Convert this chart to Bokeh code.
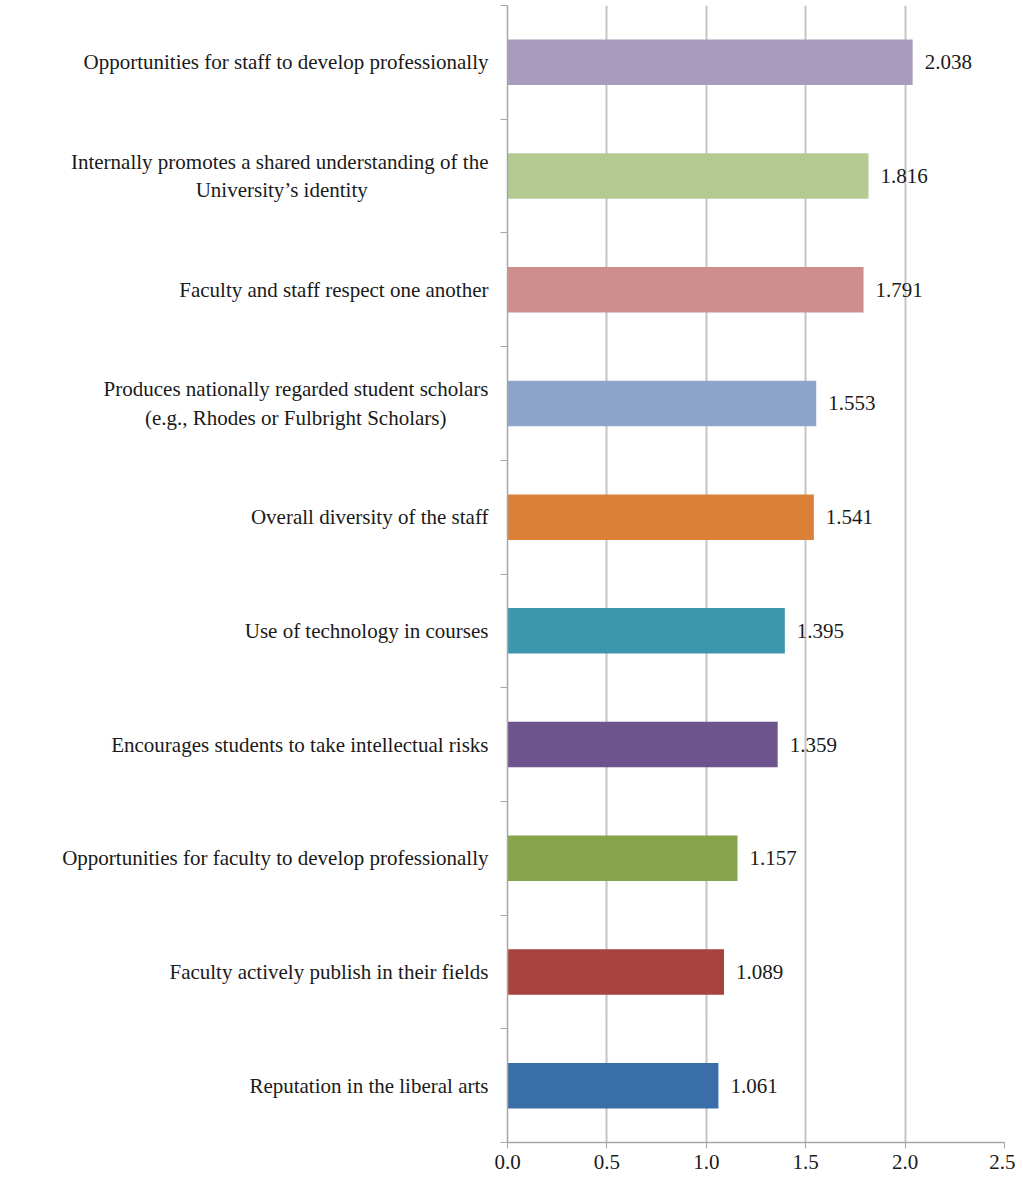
from bokeh.plotting import figure
from bokeh.models import Range1d, FixedTicker, ColumnDataSource
from bokeh.core.properties import value
from bokeh.embed import file_html
from bokeh.resources import INLINE

NB = "\u00a0"
categories = [
    "Reputation in the liberal arts",
    "Faculty actively publish in their fields",
    "Opportunities for faculty to develop professionally",
    "Encourages students to take intellectual risks",
    "Use of technology in courses",
    "Overall diversity of the staff",
    "Produces nationally regarded student scholars\n(e.g., Rhodes or Fulbright Scholars)" + NB * 8,
    "Faculty and staff respect one another",
    "Internally promotes a shared understanding of the\nUniversity\u2019s identity" + NB * 23,
    "Opportunities for staff to develop professionally",
]
values = [1.061, 1.089, 1.157, 1.359, 1.395, 1.541, 1.553, 1.791, 1.816, 2.038]
colors = ["#3A6EA8", "#A8423F", "#86A44A", "#6E548D", "#3D96AE",
          "#DA8137", "#8EA5CB", "#CE8E8D", "#B5CA92", "#A99BBD"]
x_ticks = [0.0, 0.5, 1.0, 1.5, 2.0, 2.5]
x_tick_labels = ["0.0", "0.5", "1.0", "1.5", "2.0", "2.5"]

n = len(categories)
centers = [i + 0.5 for i in range(n)]
src = ColumnDataSource(dict(y=centers, v=values, c=colors,
                            lab=["%.3f" % v for v in values]))

FONT = "Liberation Serif"
FS = "21px"

p = figure(width=1015, height=1181, output_backend="svg", toolbar_location=None,
           x_range=Range1d(0, 2.5), y_range=Range1d(0, n),
           min_border_left=507, min_border_right=11, min_border_top=5,
           min_border_bottom=39)
p.outline_line_color = None
p.background_fill_color = "white"

p.hbar(y="y", left=0, right="v", height=0.40, fill_color="c", line_color=None, source=src)
p.text(x="v", y="y", text="lab", source=src, x_offset=12, text_baseline="middle",
       text_align="left", text_font=value(FONT), text_font_size=FS, text_color="#1a1a1a")

# x axis
p.xaxis.ticker = FixedTicker(ticks=x_ticks)
p.xaxis.major_label_overrides = {t: l for t, l in zip(x_ticks, x_tick_labels)}
p.xaxis.major_label_text_font = FONT
p.xaxis.major_label_text_font_size = FS
p.xaxis.major_label_text_color = "#1a1a1a"
p.xaxis.axis_line_color = "#A6A6A6"
p.xaxis.axis_line_width = 1.5
p.xaxis.major_tick_line_color = "#A6A6A6"
p.xaxis.major_tick_out = 6
p.xaxis.major_tick_in = 0
p.xaxis.minor_tick_line_color = None
p.xaxis.major_label_standoff = 6

# y axis
p.yaxis.ticker = FixedTicker(ticks=centers, minor_ticks=list(range(n + 1)))
p.yaxis.major_label_overrides = {c: l for c, l in zip(centers, categories)}
p.yaxis.major_label_text_font = FONT
p.yaxis.major_label_text_font_size = FS
p.yaxis.major_label_text_color = "#1a1a1a"
p.yaxis.major_tick_line_color = None
p.yaxis.minor_tick_line_color = "#A6A6A6"
p.yaxis.minor_tick_out = 7
p.yaxis.minor_tick_in = 0
p.yaxis.axis_line_color = "#A6A6A6"
p.yaxis.axis_line_width = 1.5
p.yaxis.major_label_standoff = 12

p.xgrid.ticker = FixedTicker(ticks=x_ticks)
p.xgrid.grid_line_color = "#C4C4C4"
p.xgrid.grid_line_width = 2
p.ygrid.grid_line_color = None

open("out.html", "w").write(file_html(p, INLINE))
